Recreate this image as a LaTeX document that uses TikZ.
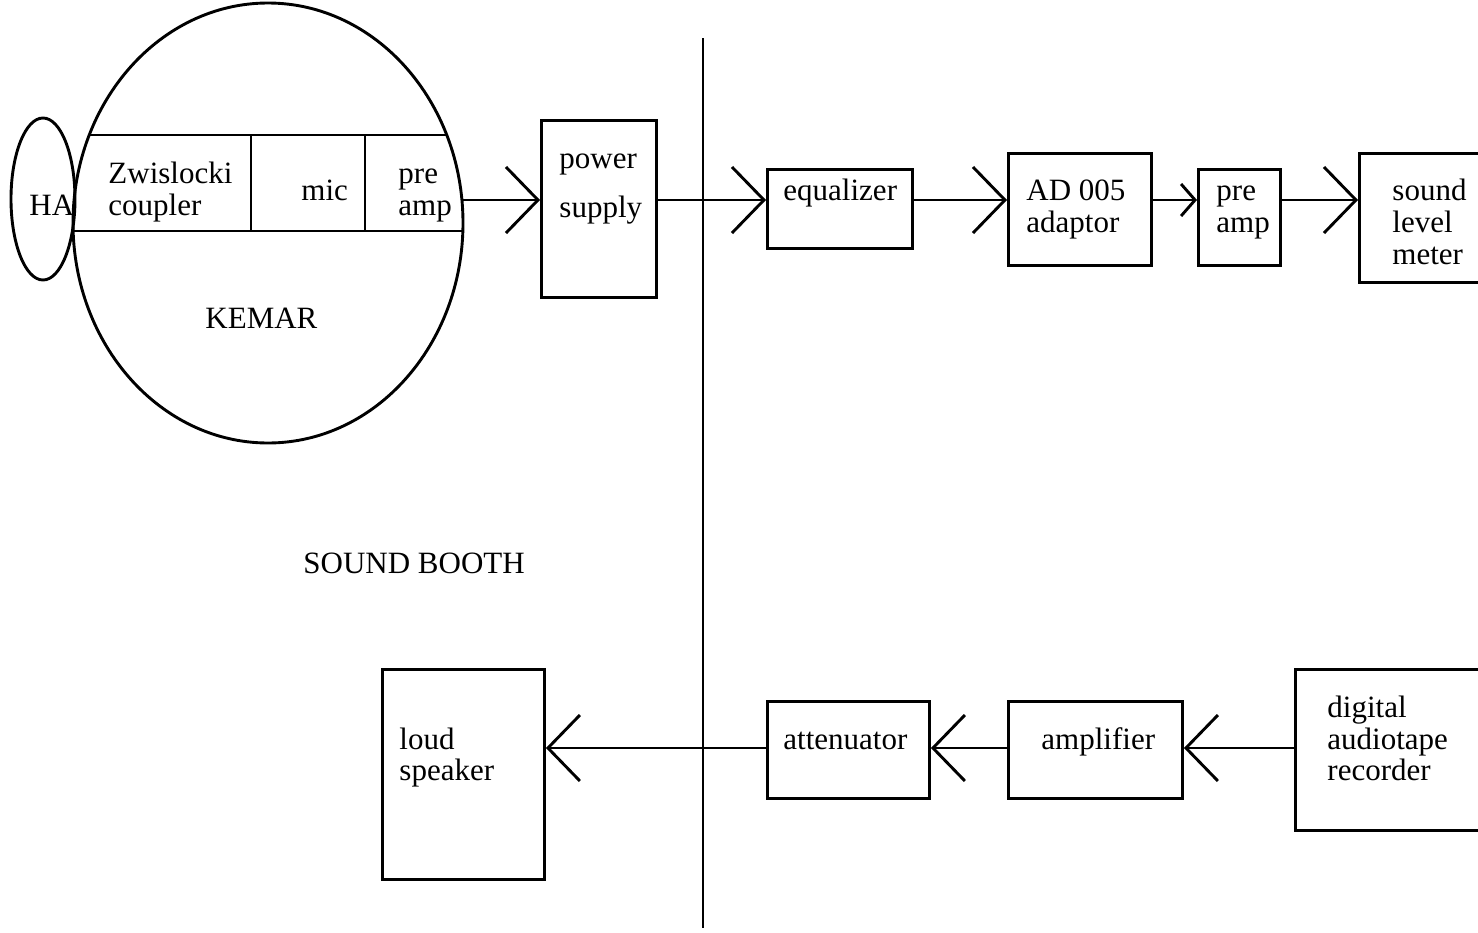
\documentclass[tikz,border=0pt]{standalone}
\usepackage{fontspec}
\setmainfont{Liberation Serif}
\usetikzlibrary{arrows.meta,shapes.geometric}
\begin{document}
\begin{tikzpicture}[x=1pt,y=-1pt, line width=2.9pt,
  box/.style={draw, rectangle, inner sep=0pt, anchor=north west},
  lbl/.style={anchor=base west, inner sep=0pt, font=\fontsize{31}{32}\selectfont},
  bigtip/.style={-{Straight Barb[length=32pt,width=66pt]}},
  smalltip/.style={-{Straight Barb[length=14pt,width=32pt]}}]
\fill[white] (0,0) rectangle (1478,932);
\clip (0,0) rectangle (1478,932);
% KEMAR head and HA
\node[draw, ellipse, minimum width=390pt, minimum height=440pt, inner sep=0pt] (kemar) at (268,223) {};
\node[draw, ellipse, minimum width=64pt, minimum height=162pt, inner sep=0pt] (ha) at (43,199) {};
\coordinate (bandTL) at (90,135);
\coordinate (bandTR) at (446,135);
\coordinate (bandBL) at (73,231);
\coordinate (bandBR) at (463,231);
\draw (bandTL) -- (bandTR);
\draw (bandBL) -- (bandBR);
\coordinate (v1t) at (251,135); \coordinate (v1b) at (251,231);
\coordinate (v2t) at (365,135); \coordinate (v2b) at (365,231);
\draw (v1t) -- (v1b);
\draw (v2t) -- (v2b);
\node[lbl] (tha) at (28,215) {HA};
\node[lbl] (tzw) at (107,183) {Zwislocki};
\node[lbl] (tcp) at (107,215) {coupler};
\node[lbl] (tmic) at (300,200) {mic};
\node[lbl] (tpre1) at (397,183) {pre};
\node[lbl] (tamp1) at (397,215) {amp};
\node[lbl] (tkemar) at (204,328) {KEMAR};
\node[lbl] (tbooth) at (302,573) {SOUND BOOTH};
% divider
\coordinate (d1) at (703,38);
\coordinate (d2) at (703,928);
\draw (d1) -- (d2);
% top row boxes
\node[box, minimum width=115pt, minimum height=177pt] (ps) at (540,119) {};
\node[lbl] (tps1) at (558,168) {power};
\node[lbl] (tps2) at (558,217) {supply};
\node[box, minimum width=145pt, minimum height=79pt] (eq) at (766,168) {};
\node[lbl] (teq) at (782,200) {equalizer};
\node[box, minimum width=143pt, minimum height=112pt] (ad) at (1007,152) {};
\node[lbl] (tad1) at (1025,200) {AD 005};
\node[lbl] (tad2) at (1025,232) {adaptor};
\node[box, minimum width=82pt, minimum height=96pt] (pa) at (1197,168) {};
\node[lbl] (tpa1) at (1215,200) {pre};
\node[lbl] (tpa2) at (1215,232) {amp};
\node[box, minimum width=140pt, minimum height=129pt] (slm) at (1358,152) {};
\node[lbl] (tslm1) at (1391,200) {sound};
\node[lbl] (tslm2) at (1391,232) {level};
\node[lbl] (tslm3) at (1391,264) {meter};
% bottom row boxes
\node[box, minimum width=190pt, minimum height=161pt] (dat) at (1294,668) {};
\node[lbl] (tdat1) at (1326,717) {digital};
\node[lbl] (tdat2) at (1326,749) {audiotape};
\node[lbl] (tdat3) at (1326,780) {recorder};
\node[box, minimum width=174pt, minimum height=97pt] (amp) at (1007,700) {};
\node[lbl] (tamp) at (1040,749) {amplifier};
\node[box, minimum width=162pt, minimum height=97pt] (att) at (766,700) {};
\node[lbl] (tatt) at (782,749) {attenuator};
\node[box, minimum width=162pt, minimum height=210pt] (ls) at (381,668) {};
\node[lbl] (tls1) at (398,749) {loud};
\node[lbl] (tls2) at (398,780) {speaker};
% connectors
\coordinate (top) at (0,200);
\coordinate (bot) at (0,748);
\coordinate (kR) at (462,200);
\draw[bigtip] (kR) -- (kR -| ps.west);
\draw[bigtip] (ps.east |- top) -- (eq.west |- top);
\draw[bigtip] (eq.east |- top) -- (ad.west |- top);
\draw[smalltip] (ad.east |- top) -- (pa.west |- top);
\draw[bigtip] (pa.east |- top) -- (slm.west |- top);
\draw[bigtip] (dat.west |- bot) -- (amp.east |- bot);
\draw[bigtip] (amp.west |- bot) -- (att.east |- bot);
\draw[bigtip] (att.west |- bot) -- (ls.east |- bot);
\end{tikzpicture}
\end{document}
